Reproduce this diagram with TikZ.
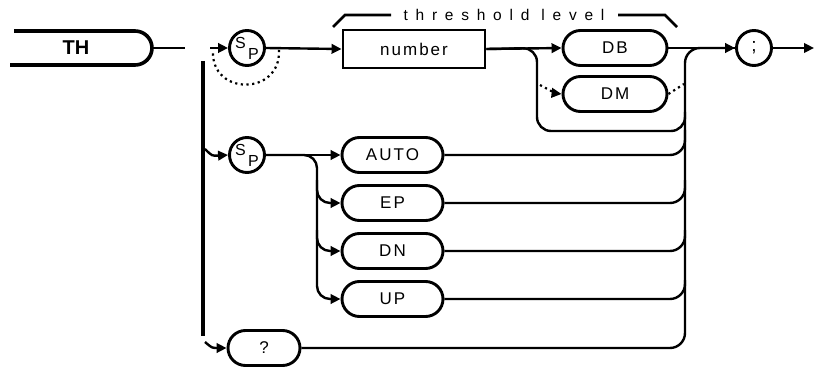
\documentclass[tikz,border=0pt]{standalone}
\usepackage{fontspec}
\setmainfont{Liberation Sans}
\newfontfamily\lblfont[LetterSpace=12]{Liberation Sans}
\newfontfamily\spfont[LetterSpace=50]{Liberation Sans}
\usetikzlibrary{arrows.meta,shapes.misc}
\begin{document}
\begin{tikzpicture}[x=1pt,y=-1pt,
  conn/.style={line width=2.4pt},
  tip/.style={-{Triangle[length=10pt,width=9.5pt]}},
  dots/.style={line width=2.2pt,dash pattern=on 2.2pt off 3.5pt},
  pill/.style={draw,rounded rectangle,line width=2.9pt,minimum height=35pt,inner sep=0pt,font=\lblfont\fontsize{17}{17}\selectfont},
  circ/.style={draw,circle,line width=2.9pt,minimum size=35pt,inner sep=0pt},
  sub/.style={font=\fontsize{16}{16}\selectfont,inner sep=0pt}]
\useasboundingbox (0,0) rectangle (815,369);

% TH keyword
\node[font=\bfseries\fontsize{20}{20}\selectfont,inner sep=0pt] (th) at (76,48) {TH};
\draw[line width=3.6pt,rounded corners=17pt] (14,31) -- (152,31) -- (152,65) -- (10,65);
\coordinate (thend) at (152,48);
\coordinate (thstub) at (185,48);
\draw[conn] (thend) -- (thstub);

% vertical bar
\coordinate (bartop) at (203,61);
\coordinate (barbot) at (203,336);
\draw[line width=3.4pt] (bartop) -- (barbot);

% first Sp
\node[circ] (sp1) at (247,48) {};
\node[sub] (sp1s) at (240.5,42.5) {S};
\node[sub] (sp1p) at (253.5,54) {P};
\coordinate (sp1in) at (210,48);
\draw[conn,tip] (sp1in) -- (sp1.west);
\coordinate (loopa) at (279,50);
\coordinate (loopb) at (213,51);
\draw[dots] (loopa) .. controls (281,96) and (211,96) .. (loopb);

% number box
\node[draw,line width=2.9pt,minimum width=142pt,minimum height=38pt,inner sep=0pt,font=\lblfont\fontsize{17}{17}\selectfont] (num) at (414,49) {number};
\draw[conn,tip] (sp1.east) -- (num.west);

% threshold level brace
\coordinate (bl1) at (333,27);
\coordinate (bl2) at (345,15);
\coordinate (bl3) at (391,15);
\coordinate (br1) at (618,15);
\coordinate (br2) at (665,15);
\coordinate (br3) at (677,27);
\node[font=\spfont\fontsize{15.5}{15.5}\selectfont,inner sep=0pt] (thr) at (504,15) {threshold level};
\draw[line width=2.6pt] (bl1) -- (bl2) -- (bl3);
\draw[line width=2.6pt] (br1) -- (br2) -- (br3);

% DB / DM
\node[pill,minimum width=104pt] (db) at (615,48) {DB};
\node[pill,minimum width=104pt] (dm) at (615,94) {DM};
\draw[conn,tip] (num.east) -- (db.west);
\coordinate (byp) at (685,112);
\draw[conn,rounded corners=14pt] (num.east) -- (537,48) -- (537,131) -- (685,131) -- (byp);
\coordinate (dmin) at (540,85);
\draw[dots] (dmin) -- (553,92);
\draw[conn,tip] (553,93) -- (dm.west);
\coordinate (dmout) at (684,84);
\draw[dots] (dm.east) -- (dmout);

% semicolon
\node[circ,font=\fontsize{19}{19}\selectfont] (semi) at (754,48) {;};
\coordinate (endarr) at (814,48);
\draw[conn,tip] (semi.east) -- (endarr);
\draw[conn] (db.east) -- (semi.west);

% second Sp row
\node[circ] (sp2) at (247,155) {};
\node[sub] (sp2s) at (240.5,149.5) {S};
\node[sub] (sp2p) at (253.5,161) {P};
\coordinate (sp2in) at (205,149);
\draw[conn,tip] (sp2in) .. controls (212,156) .. (sp2.west);

\node[pill,minimum width=101pt] (auto) at (392.5,155) {AUTO};
\node[pill,minimum width=101pt] (ep) at (392.5,203) {EP};
\node[pill,minimum width=101pt] (dn) at (392.5,251) {DN};
\node[pill,minimum width=101pt] (up) at (392.5,299) {UP};
\draw[conn,tip] (sp2.east) -- (auto.west);
\draw[conn,tip,rounded corners=13pt] (sp2.east) -- (317,155) -- (317,299) -- (up.west);
\draw[conn,tip,rounded corners=13pt] (317,180) -- (317,203) -- (ep.west);
\draw[conn,tip,rounded corners=13pt] (317,230) -- (317,251) -- (dn.west);

% query
\node[pill,minimum width=72pt] (qq) at (264,348) {?};
\coordinate (qqin) at (205,342);
\draw[conn,tip] (qqin) .. controls (212,348) .. (qq.west);

% collector
\draw[conn,tip,rounded corners=15pt] (qq.east) -- (685,348) -- (685,48) -- (semi.west);
\draw[conn,rounded corners=15pt] (auto.east) -- (685,155) -- (685,130);
\draw[conn,rounded corners=15pt] (ep.east) -- (685,203) -- (685,180);
\draw[conn,rounded corners=15pt] (dn.east) -- (685,251) -- (685,230);
\draw[conn,rounded corners=15pt] (up.east) -- (685,299) -- (685,280);
\end{tikzpicture}
\end{document}
